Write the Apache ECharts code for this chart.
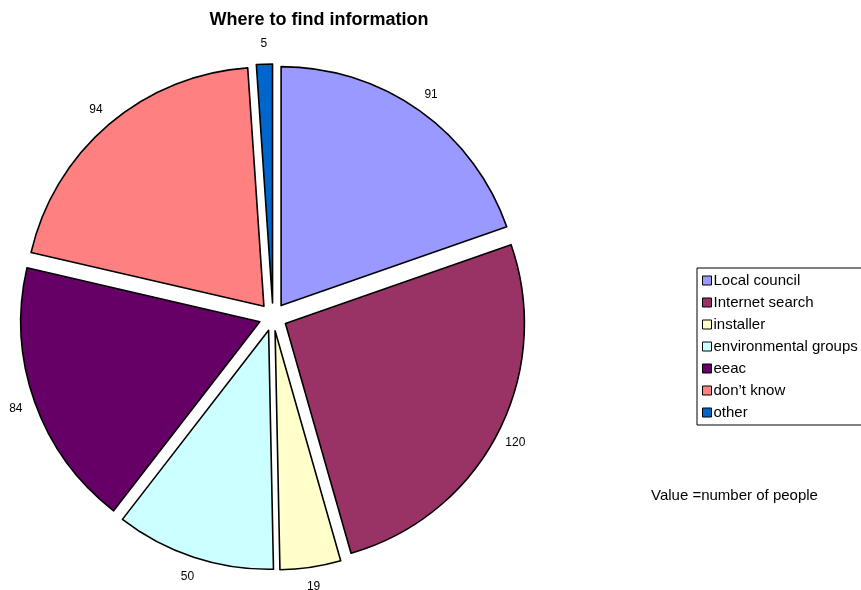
<!DOCTYPE html>
<html>
<head>
<meta charset="utf-8">
<script src="https://cdn.jsdelivr.net/npm/echarts@6/dist/echarts.min.js"></script>
<style>
  html, body { margin: 0; padding: 0; background: #fff; }
  #chart { width: 861px; height: 590px; }
</style>
</head>
<body>
<div id="chart"></div>
<script>
// sources and counts
const categories = ['Local council', 'Internet search', 'installer', 'environmental groups', 'eeac', 'don\u2019t know', 'other'];
const values = [91, 120, 19, 50, 84, 94, 5];
const colors = ['#9999FF', '#993366', '#FFFFCC', '#CCFFFF', '#660066', '#FF8080', '#0066CC'];

const chart = echarts.init(document.getElementById('chart'));
const fontFamily = '"Liberation Sans", Arial, sans-serif';

const pieData = categories.map((name, i) => ({
  name,
  value: values[i],
  selected: true,
  itemStyle: { color: colors[i] },
  select: { itemStyle: { color: colors[i], borderColor: '#000', borderWidth: 1.6 } },
}));

chart.setOption({
  animation: false,
  textStyle: { fontFamily },
  title: {
    text: 'Where to find information',
    left: 314,
    top: 6,
    textAlign: 'center',
    textStyle: { fontSize: 18, fontWeight: 'bold', color: '#000', fontFamily },
  },
  legend: {
    orient: 'vertical',
    left: 697,
    top: 268,
    data: categories,
    icon: 'rect',
    itemWidth: 9,
    itemHeight: 9,
    itemGap: 5,
    padding: [4, 6, 4, 5],
    borderColor: '#000',
    borderWidth: 1,
    selectedMode: false,
    itemStyle: { borderColor: '#000', borderWidth: 1 },
    textStyle: { fontSize: 15, color: '#000', fontFamily, lineHeight: 17, padding: [0, 0, 0, -3] },
  },
  graphic: [{
    type: 'text',
    left: 651,
    top: 488,
    style: { text: 'Value =number of people', fill: '#000', font: '15px "Liberation Sans", Arial, sans-serif' },
  }],
  series: [{
    type: 'pie',
    center: [273, 317],
    radius: [0, 239],
    startAngle: 90,
    clockwise: true,
    selectedMode: 'multiple',
    selectedOffset: 14,
    emphasis: { disabled: true },
    itemStyle: { borderColor: '#000', borderWidth: 1.6 },
    label: {
      show: true,
      position: 'outside',
      formatter: '{c}',
      fontSize: 12,
      color: '#000',
      fontFamily,
      distanceToLabelLine: 0,
    },
    labelLine: { show: false, length: 20, length2: 0 },
    labelLayout: { align: 'center', verticalAlign: 'middle' },
    data: pieData,
  }],
});
</script>
</body>
</html>
